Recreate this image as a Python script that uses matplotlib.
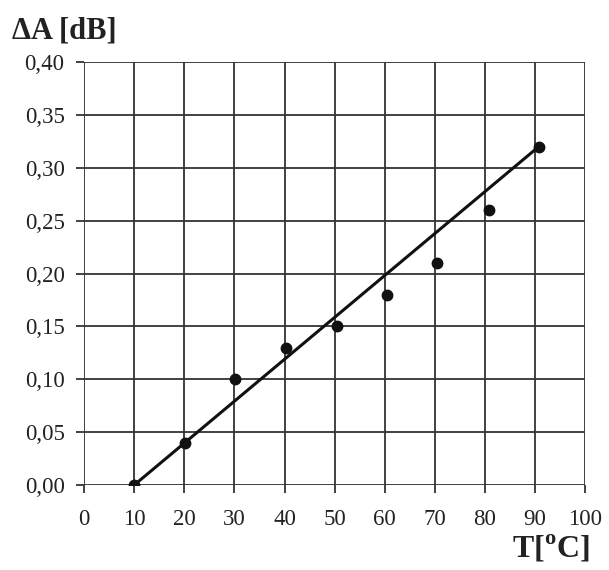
import numpy as np
import matplotlib.pyplot as plt
from matplotlib.ticker import FuncFormatter

# measured points
temp = [10, 20.1, 30.2, 40.3, 50.4, 60.5, 70.5, 80.7, 90.7]
delta_a = [0.0, 0.04, 0.10, 0.13, 0.15, 0.18, 0.21, 0.26, 0.32]

# fitted line ends
fit_t = [10, 90.7]
fit_a = [0.0, 0.32]

plt.rcParams['font.family'] = ['Liberation Serif', 'DejaVu Serif']
plt.rcParams['mathtext.fontset'] = 'custom'
plt.rcParams['mathtext.rm'] = 'Liberation Serif'
plt.rcParams['mathtext.bf'] = 'Liberation Serif:bold'

fig = plt.figure(figsize=(6.09, 5.70), dpi=100)
ax = fig.add_axes([0.138, 0.149, 0.823, 0.742])

ax.plot(fit_t, fit_a, color='#111111', lw=2.2, zorder=3)
ax.plot(temp, delta_a, 'o', color='#111111', ms=7.5, zorder=4)

ax.set_xlim(0, 100)
ax.set_ylim(0, 0.40)
ax.set_xticks(np.arange(0, 101, 10))
ax.set_yticks(np.arange(0, 0.401, 0.05))
ax.yaxis.set_major_formatter(FuncFormatter(lambda v, p: f"{v:.2f}".replace('.', ',')))
ax.grid(True, color='#333333', lw=1.3)
for s in ax.spines.values():
    s.set_visible(False)
ax.tick_params(direction='out', length=6, width=1.3, color='#333333',
               labelsize=16.5, labelcolor='#222222')
ax.tick_params(axis='y', pad=8)
ax.tick_params(axis='x', pad=11)

fig.text(0.02, 0.932, 'ΔA [dB]', fontsize=22, fontweight='bold', color='#222222', va='baseline')
fig.text(0.968, 0.022, r'T[$^{\mathbf{o}}$C]', fontsize=23, fontweight='bold', color='#222222',
         ha='right', va='baseline')

fig.savefig('out.png', dpi=100, facecolor='white')
